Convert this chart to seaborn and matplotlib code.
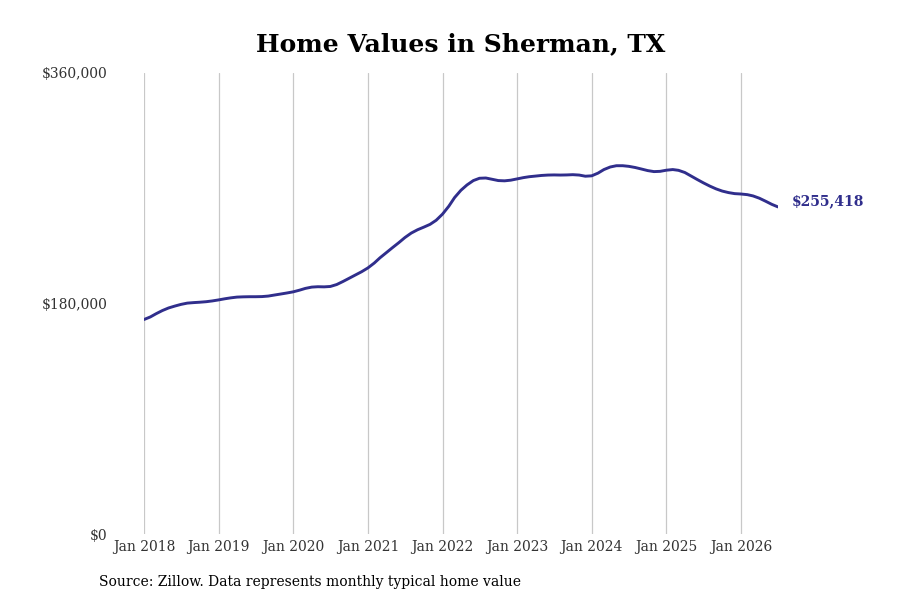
import matplotlib
matplotlib.use("Agg")
import matplotlib.pyplot as plt
import seaborn as sns
import pandas as pd
import numpy as np

start_month = "2018-01-01"
values = [
    167500, 169500, 172000, 174500, 176500, 178000, 179300, 180300, 180700, 181000, 181400, 182000,
    182800, 183700, 184400, 185000, 185200, 185300, 185300, 185400, 185800, 186600, 187400, 188200,
    189100, 190400, 191800, 192800, 193100, 193000, 193300, 194800, 197200, 199700, 202300, 204800,
    207800, 211600, 215700, 219700, 223600, 227500, 231500, 235000, 237600, 239600, 241800, 245000,
    249800, 256000, 262700, 268400, 272600, 276000, 277800, 278000, 277000, 276000, 275800, 276300,
    277300, 278300, 279000, 279500, 280000, 280300, 280400, 280300, 280400, 280600, 280300, 279400,
    279700, 281800, 284600, 286600, 287600, 287600, 287100, 286200, 285000, 283800, 283000, 283200,
    284100, 284600, 284000, 282300, 279600, 276800, 274200, 271700, 269500, 267800, 266600, 265800,
    265500, 265000, 264000, 262200, 259900, 257400, 255418,
]
last_label = "$255,418"
title = "Home Values in Sherman, TX"
source = "Source: Zillow. Data represents monthly typical home value"
y_ticks = [0, 180000, 360000]
y_tick_labels = ["$0", "$180,000", "$360,000"]
x_tick_years = list(range(2018, 2027))

dates = pd.date_range(start_month, periods=len(values), freq="MS")
df = pd.DataFrame({"date": dates, "value": values})

sns.set_theme(style="white")
plt.rcParams["font.family"] = ["DejaVu Serif"]

color = "#302e8c"
fig = plt.figure(figsize=(9, 6), dpi=100)
ax = fig.add_axes([144 / 900, 66 / 600, (778 - 144) / 900, 461 / 600])
sns.lineplot(data=df, x="date", y="value", ax=ax, color=color, linewidth=2.1)

ax.set_xlim(dates[0], dates[-1])
ax.set_ylim(0, 360000)
ax.set_yticks(y_ticks)
ax.set_yticklabels(y_tick_labels, fontsize=10, color="#333333")
xt = [pd.Timestamp(f"{y}-01-01") for y in x_tick_years]
ax.set_xticks(xt)
ax.set_xticklabels([f"Jan {y}" for y in x_tick_years], fontsize=10, color="#333333")
ax.tick_params(axis="y", length=0, pad=26.5)
ax.tick_params(axis="x", length=0, pad=4)
ax.xaxis.grid(True, color="#c8c8c8", linewidth=0.9)
ax.yaxis.grid(False)
for s in ax.spines.values():
    s.set_visible(False)
ax.set_xlabel("")
ax.set_ylabel("")

ax.annotate(last_label, xy=(dates[-1], values[-1]), xytext=(10, 4), textcoords="offset points",
            fontsize=10, fontweight="bold", color=color, va="center", ha="left", annotation_clip=False)

fig.text(461 / 900, 1 - 44 / 600, title, fontsize=18, fontweight="bold", ha="center", va="center", color="black")
fig.text(99 / 900, 1 - 582 / 600, source, fontsize=10, ha="left", va="center", color="black")

fig.savefig("out.png", dpi=100)
